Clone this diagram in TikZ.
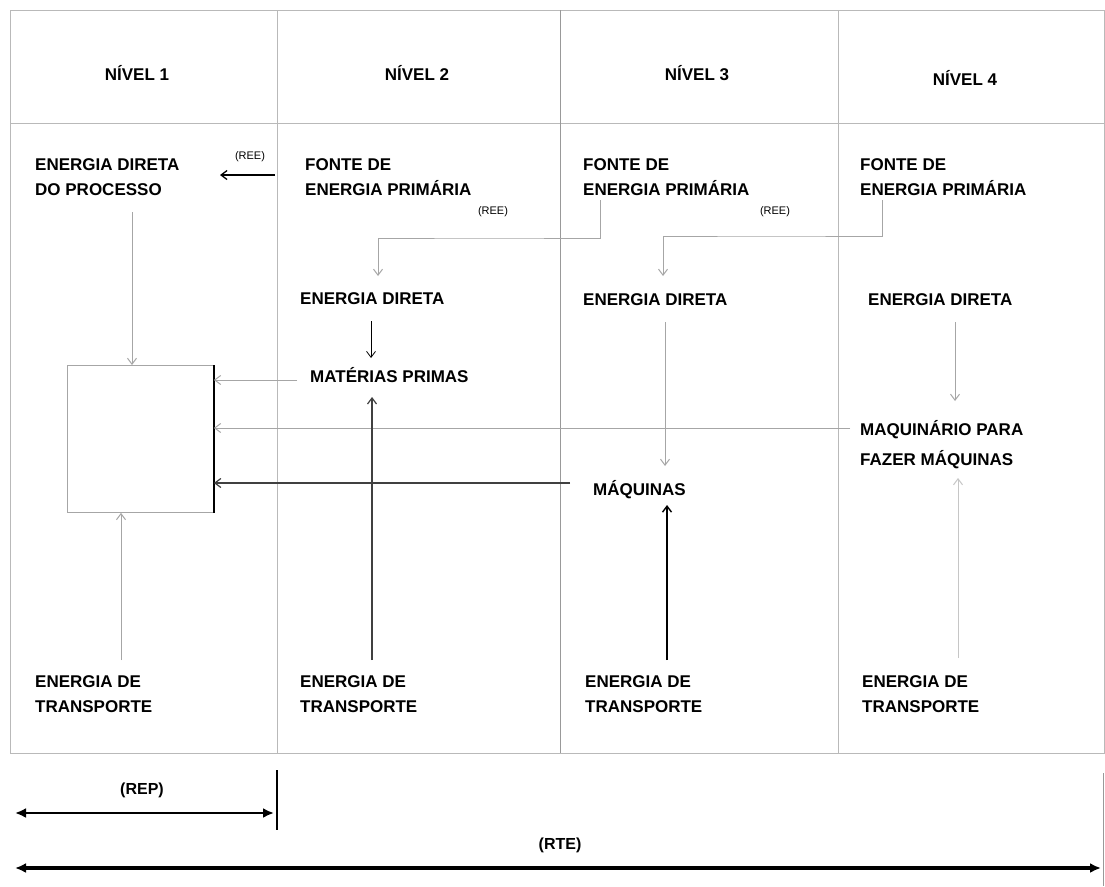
\documentclass[tikz,border=0pt]{standalone}
\usepackage{fontspec}
\setmainfont{Liberation Sans}
\usetikzlibrary{arrows.meta}
\begin{document}
\begin{tikzpicture}[x=1pt,y=-1pt,
  grid/.style={draw=gray!55, line width=0.9pt},
  lbl/.style={inner sep=0pt, anchor=base west, align=left, font=\fontsize{17}{25}\selectfont\bfseries},
  head/.style={inner sep=0pt, font=\fontsize{17}{20}\selectfont\bfseries},
  ree/.style={inner sep=0pt, font=\fontsize{11}{13}\selectfont},
  flow/.style={draw=gray!70, line width=1pt, -{Straight Barb[length=6pt,width=9pt]}},
  darkflow/.style={draw=black!75, line width=1.2pt, -{Straight Barb[length=6pt,width=9pt]}},
  blackflow/.style={draw=black, line width=1pt, -{Straight Barb[length=6pt,width=9pt]}},
  span/.style={draw=black, {Latex[length=11pt,width=10pt]}-{Latex[length=11pt,width=10pt]}}
]
\useasboundingbox (0,0) rectangle (1105,886);
\fill[white] (0,0) rectangle (1105,886);

% table grid
\draw[grid] (10,10) rectangle (1104,753);
\draw[grid] (10,123) -- (1104,123);
\draw[grid] (277,10) -- (277,753);
\draw[grid, draw=gray!80] (560,10) -- (560,753);
\draw[grid] (838,10) -- (838,753);

% headers
\node[head] (h1) at (137,73) {NÍVEL 1};
\node[head] (h2) at (417,73) {NÍVEL 2};
\node[head] (h3) at (697,73) {NÍVEL 3};
\node[head] (h4) at (965,78) {NÍVEL 4};

% top row texts (base = last line baseline)
\node[lbl] (edp) at (35,195) {ENERGIA DIRETA\\DO PROCESSO};
\node[lbl] (f2) at (305,195) {FONTE DE\\ENERGIA PRIMÁRIA};
\node[lbl] (f3) at (583,195) {FONTE DE\\ENERGIA PRIMÁRIA};
\node[lbl] (f4) at (860,195) {FONTE DE\\ENERGIA PRIMÁRIA};

% energia direta
\node[lbl] (ed2) at (300,304) {ENERGIA DIRETA};
\node[lbl] (ed3) at (583,305) {ENERGIA DIRETA};
\node[lbl] (ed4) at (868,305) {ENERGIA DIRETA};

\node[lbl] (mp) at (310,382) {MATÉRIAS PRIMAS};
\node[lbl, font=\fontsize{17}{30}\selectfont\bfseries] (mpm) at (860,465) {MAQUINÁRIO PARA\\FAZER MÁQUINAS};
\node[lbl] (maq) at (593,495) {MÁQUINAS};

% transport
\node[lbl] (t1) at (35,712) {ENERGIA DE\\TRANSPORTE};
\node[lbl] (t2) at (300,712) {ENERGIA DE\\TRANSPORTE};
\node[lbl] (t3) at (585,712) {ENERGIA DE\\TRANSPORTE};
\node[lbl] (t4) at (862,712) {ENERGIA DE\\TRANSPORTE};

% process box
\node[draw=gray!70, line width=0.9pt, minimum width=146pt, minimum height=147pt, inner sep=0pt, anchor=north west] (box) at (67,365) {};
\draw[black, line width=2pt] (box.north east) -- (box.south east);

% REE labels
\node[ree] (r1) at (250,157) {(REE)};
\node[ree] (r2) at (493,212) {(REE)};
\node[ree] (r3) at (775,212) {(REE)};

% coordinates
\coordinate (a1s) at (275,175);
\coordinate (a1e) at (220,175);
\coordinate (a2s) at (600,200);
\coordinate (a2e) at (378,276);
\coordinate (a3s) at (882,200);
\coordinate (a3e) at (663,276);

% connectors
\draw[blackflow, line width=1.3pt] (a1s) -- (a1e);
\draw[flow] (a2s) |- (489,238) -| (a2e);
\draw[flow] (a3s) |- (770,236) -| (a3e);

\draw[blackflow, line width=0.8pt] (371,321) -- (371,358);
\draw[flow] (132,212) -- (box.north -| 132,0);
\draw[flow] (297,380) -- (box.east |- 0,380);
\draw[flow] (850,428) -- (box.east |- 0,428);
\draw[darkflow] (570,483) -- (box.east |- 0,483);
\draw[flow] (121,660) -- (box.south -| 121,0);
\draw[darkflow] (372,660) -- (372,397);
\draw[flow] (665,322) -- (665,466);
\draw[blackflow, line width=1.4pt] (667,660) -- (667,505);
\draw[flow] (955,322) -- (955,401);
\draw[flow, draw=gray!45] (958,658) -- (958,478);

% bottom spans
\draw[black, line width=1.2pt] (277,770) -- (277,830);
\draw[span, line width=2.2pt] (15,813) -- (274,813);
\node[inner sep=0pt, font=\fontsize{16}{20}\selectfont\bfseries] (rep) at (142,790) {(REP)};
\draw[gray!80, line width=1pt] (1103,773) -- (1103,886);
\draw[span, line width=3.2pt] (15,868) -- (1101,868);
\node[inner sep=0pt, font=\fontsize{16}{20}\selectfont\bfseries] (rte) at (560,845) {(RTE)};
\end{tikzpicture}
\end{document}
